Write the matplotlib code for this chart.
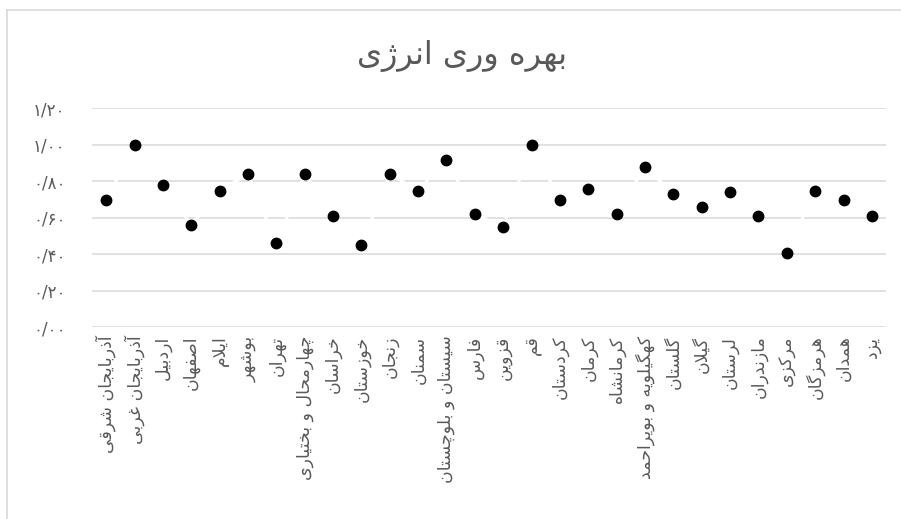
import matplotlib
matplotlib.use("Agg")
import matplotlib.pyplot as plt
from matplotlib.lines import Line2D

# --- data ---
provinces = [
    "آذربایجان شرقی", "آذربایجان غربی", "اردبیل", "اصفهان", "ایلام", "بوشهر",
    "تهران", "چهارمحال و بختیاری", "خراسان", "خوزستان", "زنجان", "سمنان",
    "سیستان و بلوچستان", "فارس", "قزوین", "قم", "کردستان", "کرمان",
    "کرمانشاه", "کهگیلویه و بویراحمد", "گلستان", "گیلان", "لرستان",
    "مازندران", "مرکزی", "هرمزگان", "همدان", "یزد",
]
efficiency = [
    0.70, 1.00, 0.78, 0.56, 0.75, 0.84, 0.46, 0.84, 0.61, 0.45, 0.84, 0.75,
    0.92, 0.62, 0.55, 1.00, 0.70, 0.76, 0.62, 0.88, 0.73, 0.66, 0.74, 0.61,
    0.41, 0.75, 0.70, 0.61,
]
y_ticks = [0.0, 0.2, 0.4, 0.6, 0.8, 1.0, 1.2]
title = "بهره وری انرژی"

# --- minimal persian shaping (matplotlib has no bidi / shaping) ---
# letter: (isolated, final, initial, medial); None -> joins only to the right
FORMS = {
    "ا": ("\uFE8D", "\uFE8E", None, None), "آ": ("\uFE81", "\uFE82", None, None),
    "ب": ("\uFE8F", "\uFE90", "\uFE91", "\uFE92"), "پ": ("\uFB56", "\uFB57", "\uFB58", "\uFB59"),
    "ت": ("\uFE95", "\uFE96", "\uFE97", "\uFE98"), "ج": ("\uFE9D", "\uFE9E", "\uFE9F", "\uFEA0"),
    "چ": ("\uFB7A", "\uFB7B", "\uFB7C", "\uFB7D"), "ح": ("\uFEA1", "\uFEA2", "\uFEA3", "\uFEA4"),
    "خ": ("\uFEA5", "\uFEA6", "\uFEA7", "\uFEA8"), "د": ("\uFEA9", "\uFEAA", None, None),
    "ذ": ("\uFEAB", "\uFEAC", None, None), "ر": ("\uFEAD", "\uFEAE", None, None),
    "ز": ("\uFEAF", "\uFEB0", None, None), "ژ": ("\uFB8A", "\uFB8B", None, None),
    "س": ("\uFEB1", "\uFEB2", "\uFEB3", "\uFEB4"), "ش": ("\uFEB5", "\uFEB6", "\uFEB7", "\uFEB8"),
    "ص": ("\uFEB9", "\uFEBA", "\uFEBB", "\uFEBC"), "غ": ("\uFECD", "\uFECE", "\uFECF", "\uFED0"),
    "ف": ("\uFED1", "\uFED2", "\uFED3", "\uFED4"), "ق": ("\uFED5", "\uFED6", "\uFED7", "\uFED8"),
    "ک": ("\uFB8E", "\uFB8F", "\uFB90", "\uFB91"), "گ": ("\uFB92", "\uFB93", "\uFB94", "\uFB95"),
    "ل": ("\uFEDD", "\uFEDE", "\uFEDF", "\uFEE0"), "م": ("\uFEE1", "\uFEE2", "\uFEE3", "\uFEE4"),
    "ن": ("\uFEE5", "\uFEE6", "\uFEE7", "\uFEE8"), "ه": ("\uFEE9", "\uFEEA", "\uFEEB", "\uFEEC"),
    "و": ("\uFEED", "\uFEEE", None, None), "ی": ("\uFBFC", "\uFBFD", "\uFBFE", "\uFBFF"),
}


def shape(text):
    out = []
    i = 0
    while i < len(text):
        c = text[i]
        if c not in FORMS:
            out.append(c)
            i += 1
            continue
        prev = text[i - 1] if i > 0 else ""
        joins_prev = prev in FORMS and FORMS[prev][2] is not None
        # lam-alef ligature
        if c == "ل" and i + 1 < len(text) and text[i + 1] in ("ا", "آ"):
            if text[i + 1] == "ا":
                out.append("\uFEFC" if joins_prev else "\uFEFB")
            else:
                out.append("\uFEF6" if joins_prev else "\uFEF5")
            i += 2
            continue
        nxt = text[i + 1] if i + 1 < len(text) else ""
        joins_next = FORMS[c][2] is not None and nxt in FORMS
        iso, fin, ini, med = FORMS[c]
        if joins_prev and joins_next:
            out.append(med)
        elif joins_prev:
            out.append(fin)
        elif joins_next:
            out.append(ini)
        else:
            out.append(iso)
        i += 1
    return "".join(out)[::-1]


def fa_num(v):
    s = "%.2f" % v
    digits = "۰۱۲۳۴۵۶۷۸۹"
    return "".join(digits[int(ch)] if ch.isdigit() else "/" for ch in s)


plt.rcParams["font.family"] = ["DejaVu Sans"]
grey = "#595959"

fig = plt.figure(figsize=(9.01, 5.19), dpi=100)
ax = fig.add_axes([0.1021, 0.3694, 0.8813, 0.4216])

x = list(range(len(provinces)))
ax.set_ylim(0, 1.2)
ax.set_xlim(-0.5, len(provinces) - 0.5)
ax.set_yticks(y_ticks)
ax.set_yticklabels([fa_num(v) for v in y_ticks], color=grey, fontsize=12)
ax.yaxis.grid(True, color="#d9d9d9", linewidth=1.1)
ax.set_axisbelow(True)
ax.tick_params(axis="y", length=0, pad=19)
ax.tick_params(axis="x", length=0, pad=6)
for s in ax.spines.values():
    s.set_visible(False)

# white connecting line (leaves gaps in the gridlines) then markers
ax.plot(x, efficiency, color="white", linewidth=2.2, zorder=2)
ax.plot(x, efficiency, linestyle="none", marker="o", markersize=7.5,
        color="black", zorder=3)

ax.set_xticks(x)
ax.set_xticklabels([shape(p) for p in provinces], rotation=90,
                   color=grey, fontsize=12.5, va="top", ha="center")

fig.text(0.513, 0.892, shape(title), color=grey, fontsize=23,
         ha="center", va="center")

# chart frame (top and left edges visible)
fig.add_artist(Line2D([7 / 901, 1.0], [1 - 9.5 / 519, 1 - 9.5 / 519],
                      transform=fig.transFigure, color="#d9d9d9", linewidth=1.2))
fig.add_artist(Line2D([7 / 901, 7 / 901], [0.0, 1 - 9.5 / 519],
                      transform=fig.transFigure, color="#d9d9d9", linewidth=1.2))

fig.savefig("out.png", dpi=100)
